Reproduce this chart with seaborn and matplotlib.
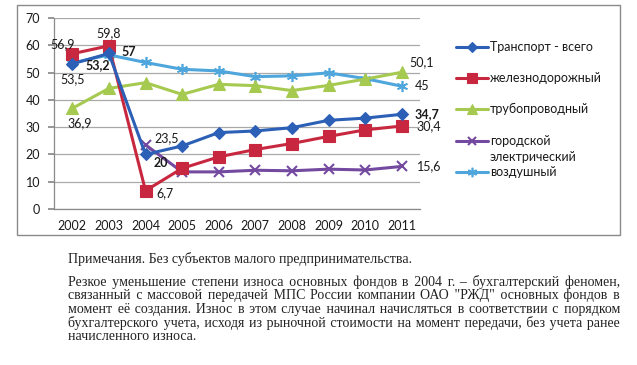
import numpy as np
import pandas as pd
import seaborn as sns
import matplotlib.pyplot as plt
from matplotlib.lines import Line2D
from matplotlib.patches import Rectangle

# values (степень износа основных фондов, %)
years = ['2002', '2003', '2004', '2005', '2006', '2007', '2008', '2009', '2010', '2011']
transport = [53.2, 57.0, 20.0, 23.1, 28.0, 28.6, 29.8, 32.5, 33.3, 34.7]
rail = [56.9, 59.8, 6.7, 14.9, 19.1, 21.8, 24.0, 26.6, 29.0, 30.4]
pipeline = [36.9, 44.2, 46.3, 42.0, 45.7, 45.2, 43.4, 45.3, 47.6, 50.1]
urban = [np.nan, np.nan, 23.5, 13.6, 13.6, 14.2, 14.0, 14.6, 14.3, 15.6]
air = [53.5, 56.5, 53.7, 51.2, 50.6, 48.5, 48.8, 49.9, 47.8, 45.0]

names = ['Транспорт - всего', 'железнодорожный', 'трубопроводный',
         'городской\nэлектрический', 'воздушный']

note = 'Примечания. Без субъектов малого предпринимательства.'
para = ['Резкое уменьшение степени износа основных фондов в 2004 г. – бухгалтерский феномен,',
        'связанный с массовой передачей МПС России компании ОАО "РЖД" основных фондов в',
        'момент её создания. Износ в этом случае начинал начисляться в соответствии с порядком',
        'бухгалтерского учета, исходя из рыночной стоимости на момент передачи, без учета ранее',
        'начисленного износа.']

df = pd.DataFrame({'x': np.arange(len(years)), 't': transport, 'r': rail,
                   'p': pipeline, 'u': urban, 'a': air})

sns.set_theme(style='white')
plt.rcParams['font.family'] = ['Lato', 'DejaVu Sans']

W, H = 637, 365
fig = plt.figure(figsize=(W / 100, H / 100), dpi=100)
ax = fig.add_axes([54 / W, 1 - 209 / H, 366 / W, 191 / H])

# outer chart frame
fig.patches.append(Rectangle((17 / W, 1 - 235 / H), 603 / W, 230 / H,
                             transform=fig.transFigure, fill=False,
                             edgecolor='#8a8a8a', lw=1.0))

styles = {
    't': dict(color='#2c5fb6', marker='D', markersize=6),
    'r': dict(color='#c8283f', marker='s', markersize=8.5),
    'p': dict(color='#a6c94f', marker='^', markersize=8),
    'u': dict(color='#7449a0', marker='x', markersize=7, markeredgewidth=1.5),
    'a': dict(color='#4ea6dc', marker=(6, 2, 0), markersize=8, markeredgewidth=1.2),
}
zord = {'t': 3.4, 'r': 3.3, 'p': 3.2, 'u': 3.1, 'a': 3.0}

for key in ['t', 'r', 'p', 'u', 'a']:
    st = styles[key]
    sns.lineplot(data=df.dropna(subset=[key]), x='x', y=key, ax=ax, color=st['color'],
                 lw=2.2, marker=st['marker'], markersize=st['markersize'],
                 markeredgewidth=st.get('markeredgewidth', 0.8),
                 markeredgecolor=st['color'], zorder=zord[key])

ax.set_xlim(-0.5, len(years) - 0.5)
ax.set_ylim(0, 70)
ax.set_yticks(range(0, 71, 10))
ax.set_xticks(range(len(years)))
ax.set_xticklabels(years)
ax.set_xticks(np.arange(-0.5, len(years), 1), minor=True)
ax.set_xlabel('')
ax.set_ylabel('')
ax.grid(axis='y', color='#a9a9a9', lw=0.9)
ax.set_axisbelow(True)
for s in ['top', 'right']:
    ax.spines[s].set_visible(False)
for s in ['left', 'bottom']:
    ax.spines[s].set_color('#8a8a8a')
    ax.spines[s].set_linewidth(0.9)
ax.tick_params(axis='x', which='major', length=0, pad=8, labelsize=9, labelcolor='#1a1a1a')
ax.tick_params(axis='x', which='minor', length=4, direction='out', color='#8a8a8a')
ax.tick_params(axis='y', length=4, direction='out', color='#8a8a8a', pad=6,
               labelsize=9, labelcolor='#1a1a1a', left=True)

# data labels: (series, index, dx px, dy px, ha, bold)
series = {'t': transport, 'r': rail, 'p': pipeline, 'u': urban, 'a': air}
labels = [('r', 0, -10, 10, 'center', False), ('r', 1, 0, 13, 'center', False),
          ('t', 0, 13, -1, 'left', True), ('a', 0, 0, -16, 'center', False),
          ('t', 1, 13, 1, 'left', True), ('p', 0, 7, -15, 'center', False),
          ('u', 2, 9, 7, 'left', False), ('t', 2, 8, -9, 'left', True),
          ('r', 2, 11, -2, 'left', False), ('p', 9, 8, 10, 'left', False),
          ('a', 9, 13, 0, 'left', False), ('t', 9, 13, 0, 'left', True),
          ('r', 9, 15, 0, 'left', False), ('u', 9, 15, 0, 'left', False)]
for key, i, dx, dy, ha, bold in labels:
    v = series[key][i]
    ax.annotate(f'{v:g}'.replace('.', ','), (i, v), xytext=(dx, dy),
                textcoords='offset pixels', ha=ha, va='center', fontsize=9,
                fontweight='bold' if bold else 'normal', color='#1a1a1a', zorder=5)

# legend drawn by hand to keep Excel-like spacing
leg_y = [47, 78, 109, 141, 172]
for key, name, y in zip(['t', 'r', 'p', 'u', 'a'], names, leg_y):
    st = styles[key]
    fy = 1 - y / H
    fig.lines.append(Line2D([456 / W, 488 / W], [fy, fy], transform=fig.transFigure,
                            color=st['color'], lw=2.2))
    fig.lines.append(Line2D([472 / W], [fy], transform=fig.transFigure,
                            color=st['color'], marker=st['marker'],
                            markersize=st['markersize'] * 0.85,
                            markeredgewidth=st.get('markeredgewidth', 0.8)))
    fig.text(490 / W, fy, name.split('\n')[0], fontsize=9, va='center',
             color='#1a1a1a')
    if '\n' in name:
        fig.text(490 / W, 1 - (y + 16) / H, name.split('\n')[1], fontsize=9,
                 va='center', color='#1a1a1a')

# notes under the chart; lines justified with hair spaces so each line is one text
serif = ['Liberation Serif', 'DejaVu Serif']
fs = 10
fig.canvas.draw()
rend = fig.canvas.get_renderer()


def text_width(s):
    t = fig.text(0, 0, s, family=serif, fontsize=fs)
    w = t.get_window_extent(rend).width
    t.remove()
    return w


hair = '\u200a'
hair_w = text_width('a' + hair * 10 + 'a') / 1 - text_width('aa')
hair_w = hair_w / 10

fig.text(68 / W, 1 - 263 / H, note, family=serif, fontsize=fs, va='baseline',
         color='#222222')
x0, x1 = 68, 620
for k, line in enumerate(para):
    words = line.split(' ')
    if k < len(para) - 1:
        extra = int(round((x1 - x0 - text_width(line)) / hair_w))
        gaps = len(words) - 1
        counts = [extra // gaps] * gaps
        rest = extra - sum(counts)
        for j in np.linspace(0, gaps - 1, rest).round().astype(int) if rest else []:
            counts[j] += 1
        line = words[0] + ''.join(' ' + hair * c + w for c, w in zip(counts, words[1:]))
    fig.text(x0 / W, 1 - (286 + 13.5 * k) / H, line, family=serif, fontsize=fs,
             va='baseline', color='#222222')

fig.savefig('out.png', dpi=100, facecolor='white')
